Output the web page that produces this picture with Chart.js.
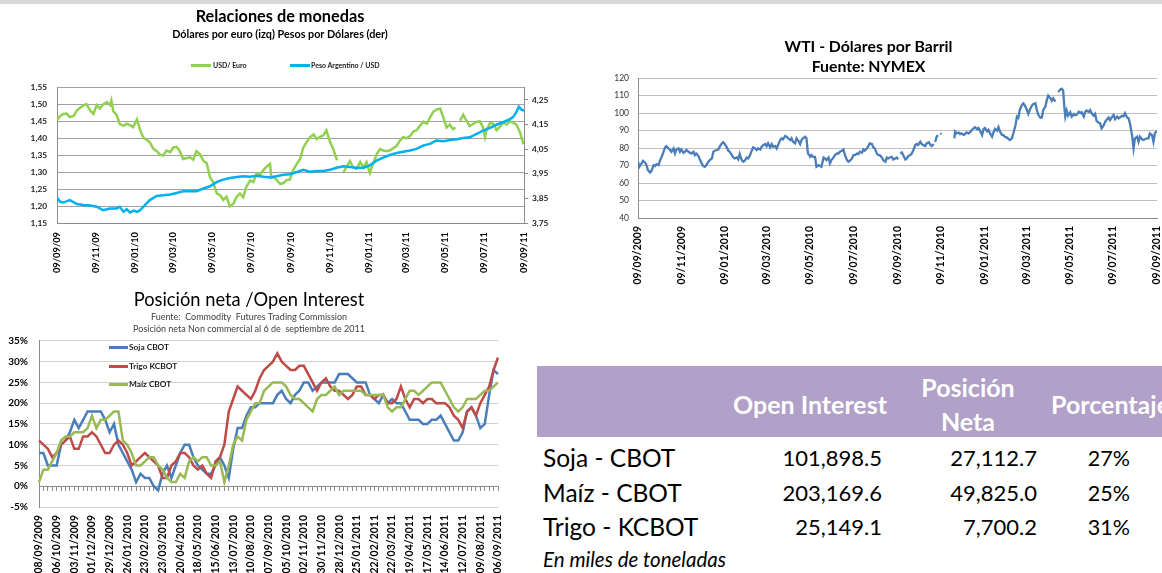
<!DOCTYPE html>
<html>
<head>
<meta charset="utf-8">
<script src="https://cdn.jsdelivr.net/npm/chart.js@4.4.1/dist/chart.umd.min.js"></script>
<style>
  html, body { margin: 0; padding: 0; background: #fff; overflow: hidden; }
  body { width: 1162px; height: 573px; position: relative; font-family: Lato, sans-serif; }
  #band { position: absolute; left: 0; top: 0; width: 1162px; height: 4px; background: #d9d9d9; }
  canvas { position: absolute; }
  .leg { position: absolute; font-weight: bold; white-space: nowrap; color: #1a1a1a; }
  .leg i { position: absolute; display: block; }
  .t { position: absolute; white-space: nowrap; }
  #head { position: absolute; left: 537px; top: 366px; width: 625px; height: 71px; background: #b1a0c7; }
</style>
</head>
<body>
<div id="band"></div>
<canvas id="monedas" width="588" height="282" style="left:0;top:4px"></canvas>
<canvas id="wti" width="612" height="270" style="left:580px;top:30px"></canvas>
<canvas id="posicion" width="520" height="288" style="left:0;top:285px"></canvas>

<!-- legend of Relaciones de monedas -->
<div class="leg" style="left:213px;top:60px;font-size:7px;line-height:10px">
  <i style="left:-22px;top:3.5px;width:20px;height:3px;background:#92d050"></i>USD/ Euro</div>
<div class="leg" style="left:311px;top:60px;font-size:7px;line-height:10px">
  <i style="left:-21px;top:3.5px;width:20px;height:3px;background:#00b0f0"></i>Peso Argentino / USD</div>

<!-- legend of Posicion neta -->
<div class="leg" style="left:129px;top:341px;font-size:8.3px;line-height:12px">
  <i style="left:-20px;top:5px;width:19px;height:2.5px;background:#4a7ebb"></i>Soja CBOT</div>
<div class="leg" style="left:129px;top:360px;font-size:8.3px;line-height:12px">
  <i style="left:-20px;top:5px;width:19px;height:2.5px;background:#be4b48"></i>Trigo KCBOT</div>
<div class="leg" style="left:129px;top:378px;font-size:8.3px;line-height:12px">
  <i style="left:-20px;top:5px;width:19px;height:2.5px;background:#98b954"></i>Maíz CBOT</div>

<div id="head"></div>
<div id="tabla"></div>

<script>
// --- Relaciones de monedas (x = days since 09/09/2009) ---
const tickDays = [0, 61, 122, 181, 242, 303, 365, 426, 487, 546, 607, 668, 730];
const monedasLabels = ['09/09/09', '09/11/09', '09/01/10', '09/03/10', '09/05/10', '09/07/10', '09/09/10',
  '09/11/10', '09/01/11', '09/03/11', '09/05/11', '09/07/11', '09/09/11'];
const wtiLabels = ['09/09/2009', '09/11/2009', '09/01/2010', '09/03/2010', '09/05/2010', '09/07/2010', '09/09/2010',
  '09/11/2010', '09/01/2011', '09/03/2011', '09/05/2011', '09/07/2011', '09/09/2011'];
const pesoTicks = [3.75, 3.85, 3.95, 4.05, 4.15, 4.25];

const usdEuro = [
  [0,1.453],[5,1.466],[10,1.472],[15,1.473],[20,1.463],[26,1.466],[31,1.482],[36,1.49],[41,1.497],[46,1.501],
  [52,1.482],[57,1.472],[62,1.498],[67,1.488],[72,1.5],[78,1.507],[83,1.498],[85,1.512],[88,1.48],[93,1.47],
  [98,1.443],[104,1.437],[109,1.443],[114,1.439],[119,1.433],[125,1.456],[130,1.424],[135,1.402],[140,1.396],[145,1.388],
  [151,1.368],[156,1.362],[161,1.352],[166,1.349],[171,1.364],[177,1.359],[182,1.373],[187,1.375],[192,1.362],[197,1.339],
  [203,1.342],[208,1.344],[213,1.337],[218,1.362],[224,1.352],[229,1.333],[234,1.327],[239,1.286],[244,1.271],[250,1.237],
  [255,1.232],[260,1.218],[265,1.228],[270,1.199],[276,1.208],[281,1.228],[286,1.237],[291,1.226],[296,1.257],[302,1.276],
  [307,1.271],[312,1.296],[317,1.291],[323,1.307],[328,1.317],[333,1.325],[335,1.284],[338,1.286],[343,1.278],[349,1.265],
  [354,1.268],[359,1.277],[364,1.278],[369,1.305],[375,1.325],[380,1.339],[385,1.373],[390,1.388],[395,1.402],[401,1.412],
  [406,1.398],[411,1.404],[416,1.408],[421,1.424],[427,1.388],[432,1.368],[437,1.339],[438,1.335],[442,null],[448,1.3],
  [453,1.317],[458,1.333],[463,1.314],[468,1.31],[474,1.33],[479,1.314],[484,1.33],[489,1.298],[494,1.325],[500,1.354],
  [505,1.368],[510,1.364],[515,1.362],[520,1.364],[526,1.371],[531,1.378],[536,1.393],[541,1.404],[546,1.4],[552,1.407],
  [557,1.42],[562,1.424],[567,1.436],[573,1.449],[578,1.443],[583,1.461],[588,1.478],[593,1.485],[599,1.488],[604,1.461],
  [609,1.432],[614,1.441],[619,1.427],[623,1.432],[626,null],[630,1.452],[635,1.47],[640,1.452],[645,1.436],[651,1.443],
  [656,1.449],[661,1.45],[666,1.432],[669,1.404],[671,1.422],[677,1.446],[682,1.443],[687,1.424],[692,1.434],[698,1.446],
  [703,1.441],[708,1.451],[713,1.446],[718,1.441],[724,1.417],[729,1.383]
];
const pesoUsd = [
  [0,3.853],[5,3.836],[10,3.833],[20,3.843],[31,3.827],[41,3.823],[52,3.821],[62,3.816],[72,3.802],[83,3.809],
  [93,3.809],[98,3.816],[104,3.796],[109,3.806],[114,3.793],[120,3.8],[125,3.795],[130,3.802],[135,3.816],[145,3.843],
  [156,3.86],[166,3.863],[177,3.866],[187,3.872],[197,3.879],[208,3.879],[218,3.879],[229,3.89],[239,3.899],[250,3.917],
  [260,3.926],[270,3.933],[281,3.937],[291,3.94],[302,3.938],[312,3.942],[323,3.938],[333,3.935],[343,3.94],[354,3.946],
  [364,3.948],[375,3.957],[385,3.966],[395,3.958],[406,3.961],[416,3.961],[427,3.966],[437,3.974],[448,3.98],[458,3.977],
  [468,3.974],[479,3.974],[489,3.984],[500,4.004],[510,4.015],[520,4.026],[531,4.034],[541,4.039],[552,4.044],[562,4.051],
  [573,4.065],[583,4.071],[593,4.085],[604,4.082],[614,4.087],[625,4.09],[635,4.095],[645,4.098],[656,4.112],[666,4.125],
  [677,4.136],[687,4.149],[698,4.16],[708,4.172],[713,4.18],[718,4.2],[722,4.222],[726,4.21],[730,4.206]
];

// --- WTI, dolares por barril ---
const wti = [
  [0,72.2],[2,69.3],[5,71.2],[7,72.7],[10,71.6],[12,70.2],[14,67.4],[17,66],[19,67],[22,70.2],
  [24,69.7],[26,70.8],[29,70.2],[31,73.1],[33,74.6],[36,77.9],[38,80.4],[40,81.1],[43,79.8],[45,78.9],
  [47,77.9],[50,79.8],[52,76.9],[54,79.2],[57,79.8],[59,77.9],[61,79.2],[64,77.3],[66,77.9],[68,78.9],
  [71,77.9],[75,76.9],[78,77.9],[80,76],[82,76.9],[85,75.4],[87,73.5],[90,70.8],[92,69.7],[94,69.3],
  [96,70.2],[99,72.2],[101,73.1],[104,74.1],[106,77.9],[108,78.5],[111,78.9],[113,79.2],[115,80.8],[118,82.7],
  [120,83.3],[122,82.3],[125,80.4],[127,78.5],[129,77.9],[132,76],[134,74.6],[136,74.1],[139,74.6],[141,73.5],
  [143,76.6],[146,73.1],[148,72.2],[150,72.7],[153,74.6],[155,74.1],[157,75.4],[160,78.5],[162,80.4],[165,79.8],
  [167,78.9],[169,79.8],[172,79.2],[174,80.8],[176,81.7],[179,82.3],[181,81.1],[183,82.7],[186,80.4],[188,82.3],
  [190,80.8],[193,81.1],[195,79.8],[197,81.7],[200,84.6],[202,85.6],[204,85],[207,86.9],[209,86.5],[211,85.6],
  [214,84.6],[216,85.6],[218,83.6],[221,82.7],[223,85.6],[225,84.6],[228,82.3],[230,84.6],[232,85.6],[235,86.5],
  [237,85.6],[239,76.9],[241,76],[242,75],[244,76],[246,75],[249,75],[251,69.3],[254,70.2],[256,69.7],
  [258,69.3],[261,74.6],[263,74.1],[265,73.1],[268,74.6],[270,71.2],[272,73.1],[275,74.6],[277,76],[280,76.9],
  [282,76.9],[284,77.9],[287,78.5],[289,79.2],[291,76],[294,73.1],[296,72.2],[298,72.7],[301,74.1],[303,76],
  [305,76],[308,76.9],[310,76.6],[312,77.9],[315,77.3],[317,79.2],[319,78.5],[322,79.8],[324,81.1],[326,82.7],
  [329,82.3],[331,80.4],[333,79.8],[336,76.9],[338,76],[340,76],[343,74.6],[345,73.1],[348,72.2],[350,74.6],
  [352,74.1],[354,74.6],[357,75],[359,73.5],[362,74.1],[364,74.6],[366,73.5],[367,null],[369,76.9],[371,77.5],
  [373,76],[376,73.5],[378,74.1],[380,75.4],[383,76],[385,76.9],[387,78.5],[390,81.7],[392,82.3],[394,81.7],
  [397,83.6],[399,82.3],[401,81.7],[404,81.1],[406,82.7],[409,83.3],[411,82],[413,81.1],[416,82.3],[417,null],
  [418,83.5],[420,86.5],[422,87.4],[423,null],[425,88.4],[427,88],[430,null],[445,85.6],[446,89.4],[448,88.4],
  [451,88.9],[453,88],[455,88.4],[458,87.5],[460,88],[462,89],[465,88.4],[467,89],[469,90],[472,91.3],
  [474,91.9],[477,90.8],[479,91.5],[481,90],[484,87.4],[486,90.8],[488,91.5],[491,89.5],[493,90.4],[495,88.5],
  [498,86.5],[500,88.9],[502,91],[505,90],[507,92],[509,89.5],[512,87.5],[514,87.4],[516,86.5],[519,86],
  [521,85.3],[523,84.6],[526,85.6],[528,88.5],[531,93.2],[533,98],[535,97.3],[537,101.8],[540,104.7],[542,105.6],
  [545,103.7],[547,101.8],[549,99.5],[552,102.7],[554,104.2],[556,105.2],[559,105.6],[561,101.8],[563,99],[566,97.3],
  [568,97.5],[570,101.8],[573,103.7],[575,107.4],[577,110],[580,108.5],[582,107],[584,108.5],[587,106.6],[589,null],
  [591,112],[594,113.5],[596,113.9],[598,112.9],[600,101.8],[601,98],[603,101.5],[605,98.5],[608,100.5],[610,98],
  [613,99.5],[615,98.8],[617,99],[620,100.8],[622,100],[624,100.5],[627,98],[629,100.7],[631,101.5],[634,100.7],
  [636,101.8],[638,100],[641,98.5],[643,99.5],[645,95.5],[648,94.5],[650,94.2],[652,91.3],[655,93],[657,95],
  [659,96],[662,97.5],[664,96],[667,98],[669,99],[671,96.5],[674,98],[676,97],[678,97.6],[681,98.5],
  [683,98.2],[685,100],[688,97.5],[690,97],[692,94],[695,87],[697,79.8],[699,85.6],[702,86.5],[704,83.6],
  [706,86.5],[709,85],[711,84.6],[713,85],[716,85.6],[718,85.6],[720,88.4],[723,87.4],[725,83.6],[727,88.4],
  [730,90]
];

// --- Posicion neta / Open Interest (%), weekly from 08/09/2009 ---
const soja = [
  8,8,5,5,5,10,11,13,16,14, 16,18,18,18,18,16,13,15,10,8, 6,4,1,3,2,2,0,-1,3,5,
  2,5,8,10,10,7,5,4,3,3, 5,7,5,2,9,14,14,17,19,19, 20,20,20,20,22,23,21,20,22,23,
  25,25,23,24,25,25,25,25,27,27, 27,26,25,25,25,22,21,20,22,20, 21,20,20,18,16,16,16,15,15,16,
  16,17,15,13,11,11,13,18,19,17, 14,15,22,28,27
];
const trigo = [
  11,10,9,7,8,10,11,12,9,9, 12,12,13,12,10,8,8,10,11,10, 8,5,6,7,8,7,6,5,2,2,
  5,6,8,8,7,5,4,5,3,2, 6,7,10,18,21,24,23,22,21,23, 26,28,29,30,32,30,29,28,28,29,
  29,27,25,23,25,26,24,23,23,22, 21,22,24,24,22,22,21,22,22,20, 20,21,24,21,19,21,21,20,21,21,
  20,20,20,19,17,16,14,18,19,17, 20,22,24,28,31
];
const maiz = [
  1,4,4,6,8,11,12,12,13,13, 13,14,17,14,16,16,17,18,18,11, 10,8,5,5,6,7,7,5,4,2,
  1,1,3,2,6,7,6,7,7,5, 5,6,1,5,10,12,11,16,18,20, 20,23,24,25,25,25,24,22,21,21,
  20,19,18,21,22,22,23,24,22,23, 23,23,23,23,22,22,22,22,22,19, 18,19,19,21,23,23,22,23,24,25,
  25,25,23,21,19,18,19,21,21,21, 22,23,23,24,25
];

// --- tabla ---
const tablaProductos = ['Soja - CBOT', 'Maíz - CBOT', 'Trigo - KCBOT'];
const openInterest = [101898.5, 203169.6, 25149.1];
const posicionNeta = [27112.7, 49825.0, 7700.2];
const porcentaje = [27, 25, 31];

const weeks = [];
for (let i = 0; i < soja.length; i++) {
  const d = new Date(Date.UTC(2009, 8, 8 + 7 * i));
  weeks.push(String(d.getUTCDate()).padStart(2, '0') + '/' + String(d.getUTCMonth() + 1).padStart(2, '0') + '/' + d.getUTCFullYear());
}

const xy = pairs => pairs.map(([x, y]) => ({x, y}));
const coma = v => v.toFixed(2).replace('.', ',');

Chart.defaults.font.family = 'Lato, sans-serif';
Chart.defaults.color = '#000';
Chart.defaults.animation = false;
Chart.defaults.plugins.legend.display = false;
Chart.defaults.plugins.tooltip.enabled = false;
Chart.defaults.elements.point.radius = 0;
Chart.defaults.elements.line.tension = 0;

new Chart(document.getElementById('monedas'), {
  type: 'line',
  data: {
    datasets: [
      {label: 'Peso Argentino / USD', data: xy(pesoUsd), yAxisID: 'y1', borderColor: '#00b0f0', borderWidth: 2.5, order: 0},
      {label: 'USD/ Euro', data: xy(usdEuro), yAxisID: 'y', borderColor: '#92d050', borderWidth: 2.5, order: 1}
    ]
  },
  options: {
    responsive: false,
    layout: {padding: {right: 28}},
    plugins: {
      title: {display: true, text: 'Relaciones de monedas', font: {size: 16.3, weight: 'bold'}, padding: {top: 3.4, bottom: 0}},
      subtitle: {display: true, text: 'Dólares por euro (izq) Pesos por Dólares (der)', color: '#000',
        font: {size: 10.8, weight: 'bold'}, padding: {top: 1.5, bottom: 46.1}}
    },
    scales: {
      x: {
        type: 'linear', min: 0, max: 730,
        afterBuildTicks: a => { a.ticks = tickDays.map(v => ({value: v})); },
        afterFit: s => { s.height = 63; },
        ticks: {autoSkip: false, minRotation: 90, maxRotation: 90, padding: 9, font: {size: 9.3, weight: 'bold'},
          callback: v => monedasLabels[tickDays.indexOf(v)]},
        grid: {display: false, drawTicks: false},
        border: {color: '#8c8c8c'}
      },
      y: {
        position: 'left', min: 1.15, max: 1.55,
        afterFit: s => { s.width = 57; },
        ticks: {stepSize: 0.05, padding: 10, font: {size: 8.3, weight: 'bold'}, color: '#222', callback: v => coma(v)},
        grid: {color: '#a0a0a0', drawTicks: false},
        border: {color: '#8c8c8c'}
      },
      y1: {
        position: 'right', min: 3.75, max: 4.30,
        afterBuildTicks: a => { a.ticks = pesoTicks.map(v => ({value: v})); },
        afterFit: s => { s.width = 36; },
        ticks: {padding: 4, font: {size: 8.3, weight: 'bold'}, color: '#222', callback: v => coma(v)},
        grid: {drawOnChartArea: false, tickLength: 4, color: '#8c8c8c'},
        border: {color: '#8c8c8c'}
      }
    }
  }
});

new Chart(document.getElementById('wti'), {
  type: 'line',
  data: {
    datasets: [{label: 'WTI', data: xy(wti), borderColor: '#4a7ebb', borderWidth: 2.3}]
  },
  options: {
    responsive: false,
    layout: {padding: {right: 35}},
    plugins: {
      title: {display: true, text: ['WTI - Dólares por Barril', 'Fuente: NYMEX'],
        font: {size: 15.8, weight: 'bold', lineHeight: 1.27}, padding: {top: 7, bottom: 1}}
    },
    scales: {
      x: {
        type: 'linear', min: 0, max: 730,
        afterBuildTicks: a => { a.ticks = tickDays.map(v => ({value: v})); },
        afterFit: s => { s.height = 82; },
        ticks: {autoSkip: false, minRotation: 90, maxRotation: 90, padding: 8, font: {size: 10.5, weight: 'bold'},
          callback: v => wtiLabels[tickDays.indexOf(v)]},
        grid: {display: false, drawTicks: false},
        border: {color: '#8c8c8c'}
      },
      y: {
        min: 40, max: 120,
        afterFit: s => { s.width = 58; },
        ticks: {stepSize: 10, padding: 9, font: {size: 8.5}, color: '#333'},
        grid: {color: '#bfbfbf', drawTicks: false},
        border: {color: '#8c8c8c'}
      }
    }
  }
});

new Chart(document.getElementById('posicion'), {
  type: 'line',
  data: {
    labels: weeks,
    datasets: [
      {label: 'Soja CBOT', data: soja, borderColor: '#4a7ebb', borderWidth: 2.5, order: 3},
      {label: 'Trigo KCBOT', data: trigo, borderColor: '#be4b48', borderWidth: 2.5, order: 2},
      {label: 'Maíz CBOT', data: maiz, borderColor: '#98b954', borderWidth: 2.5, order: 1}
    ]
  },
  options: {
    responsive: false,
    layout: {padding: {right: 22}},
    plugins: {
      title: {display: true, text: 'Posición neta /Open Interest', font: {size: 18.3, weight: 'normal'}, padding: {top: 4, bottom: 0}},
      subtitle: {display: true, color: '#404040',
        text: ['Fuente:  Commodity  Futures Trading Commission', 'Posición neta Non commercial al 6 de  septiembre de 2011'],
        font: {size: 9, lineHeight: 1.33}, padding: {top: 0, bottom: 6}}
    },
    scales: {
      x: {
        type: 'category', offset: false,
        afterFit: s => { s.height = 66; },
        ticks: {autoSkip: false, minRotation: 90, maxRotation: 90, padding: 8, font: {size: 10.5, weight: 'bold'},
          callback: (v, i) => (i % 4 === 0 ? weeks[i] : null)},
        grid: {display: false, drawTicks: false},
        border: {display: false}
      },
      x0: {
        type: 'category', offset: false, position: {y: 0},
        ticks: {display: false, autoSkip: false},
        grid: {drawOnChartArea: false, tickLength: 4, color: '#8c8c8c'},
        border: {color: '#8c8c8c'}
      },
      y: {
        min: -5, max: 35,
        afterFit: s => { s.width = 39; },
        ticks: {stepSize: 5, padding: 11, font: {size: 10, weight: 'bold'}, callback: v => v + '%'},
        grid: {color: '#d0d0d0', drawTicks: false},
        border: {color: '#8c8c8c'}
      }
    }
  }
});

// tabla de posiciones
const tabla = document.getElementById('tabla');
const fmt = v => v.toLocaleString('en-US', {minimumFractionDigits: 1, maximumFractionDigits: 1});
function txt(html, css) {
  const d = document.createElement('div');
  d.className = 't';
  d.innerHTML = html;
  d.style.cssText = css;
  tabla.appendChild(d);
}
const hd = 'color:#fff;font-weight:bold;font-size:25px;';
txt('Open Interest', hd + 'right:275px;top:389px;line-height:30px');
txt('Posición<br>Neta', hd + 'left:898px;width:140px;text-align:center;top:370px;line-height:34px');
txt('Porcentaje', hd + 'left:1051px;top:389px;line-height:30px');
const rowY = [458, 493, 527];
tablaProductos.forEach((p, i) => {
  const top = 'top:' + (rowY[i] - 16) + 'px;line-height:32px;color:#000;';
  txt(p, top + 'font-size:24.5px;left:543px');
  txt(fmt(openInterest[i]), top + 'font-size:22px;right:280px');
  txt(fmt(posicionNeta[i]), top + 'font-size:22px;right:125px');
  txt(porcentaje[i] + '%', top + 'font-size:21.5px;right:32px');
});
txt('En miles de toneladas', 'font-style:italic;font-size:20.5px;line-height:26px;color:#000;left:543px;top:546px');
</script>
</body>
</html>
